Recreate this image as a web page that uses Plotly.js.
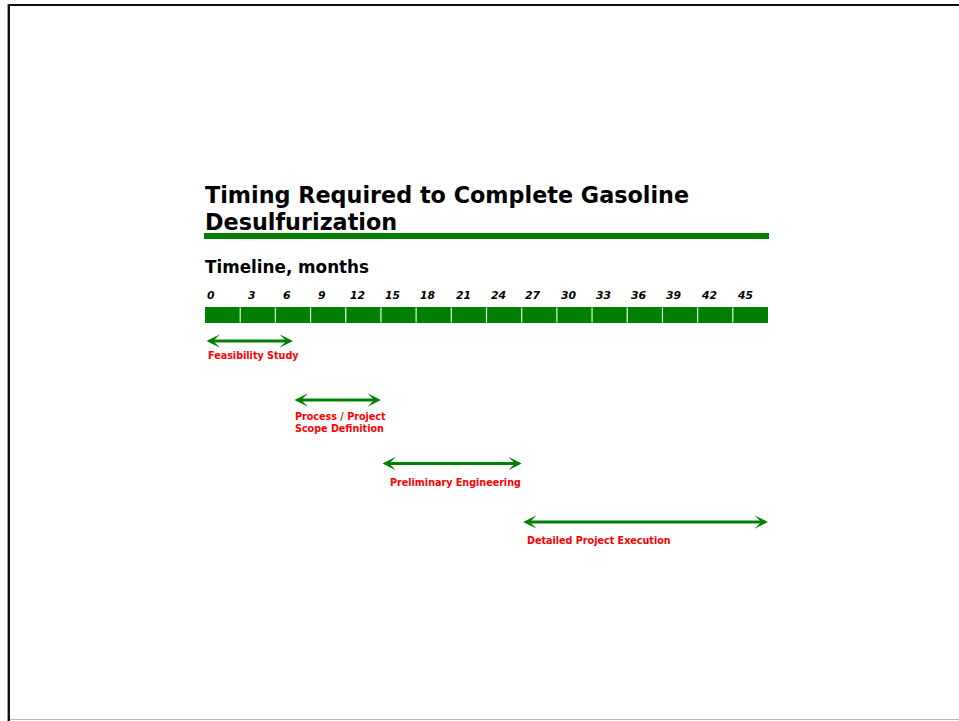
<!DOCTYPE html>
<html>
<head>
<meta charset="utf-8">
<script src="https://cdn.plot.ly/plotly-3.0.1.min.js"></script>
<style>
  html, body { margin: 0; padding: 0; background: #ffffff; }
  #chart { width: 959px; height: 721px; }
</style>
</head>
<body>
<div id="chart"></div>
<script>
// ---- data ----
var titleLines = ['Timing Required to Complete Gasoline', 'Desulfurization'];
var axisLabel = 'Timeline, months';
var totalMonths = 48;
var tickMonths = [0, 3, 6, 9, 12, 15, 18, 21, 24, 27, 30, 33, 36, 39, 42, 45];
var tickLabels = ['0', '3', '6', '9', '12', '15', '18', '21', '24', '27', '30', '33', '36', '39', '42', '45'];
var phaseNames = ['Feasibility Study', 'Process / Project<br>Scope Definition', 'Preliminary Engineering', 'Detailed Project Execution'];
var phaseStart = [0, 7.5, 15, 27];
var phaseEnd = [7.5, 15, 27, 48];

// ---- layout constants (pixels) ----
var W = 959, H = 721;
var barLeftPx = 205, barRightPx = 768;
var pxPerMonth = (barRightPx - barLeftPx) / totalMonths;
var xRange = [-barLeftPx / pxPerMonth, (W - barLeftPx) / pxPerMonth];
var arrowRowY = [341, 400, 463.5, 522];
var labelRowY = [355.5, 422.5, 482.5, 540.5];
var labelOffsetMonths = [0.2, 0.1, 0.65, 0.35];
var green = '#008000';
var red = '#ff0000';
var fam = '"DejaVu Sans", Verdana, sans-serif';

var traces = [{
  type: 'bar',
  orientation: 'h',
  y: [315],
  x: [totalMonths],
  base: [0],
  width: [16],
  marker: { color: green, line: { width: 0 } },
  hoverinfo: 'skip',
  showlegend: false
}];

var shapes = [];
// white dividers between segments
tickMonths.forEach(function (m) {
  if (m > 0) {
    shapes.push({ type: 'line', xref: 'x', yref: 'y', x0: m, x1: m, y0: 307.5, y1: 322.5,
      line: { color: (m % 12 === 0) ? '#ffffff' : '#e8f2e8', width: 1.2 }, layer: 'above' });
  }
});
// green rule under title
shapes.push({ type: 'rect', xref: 'paper', yref: 'y', x0: 204 / W, x1: 769 / W, y0: 233, y1: 239,
  fillcolor: green, line: { width: 0 } });
// frame
shapes.push({ type: 'line', xref: 'paper', yref: 'y', x0: 8.8 / W, x1: 8.8 / W, y0: 4, y1: 721,
  line: { color: '#111111', width: 2.4 } });
shapes.push({ type: 'line', xref: 'paper', yref: 'y', x0: 8 / W, x1: 1, y0: 5, y1: 5,
  line: { color: '#111111', width: 2 } });
shapes.push({ type: 'line', xref: 'paper', yref: 'y', x0: 10 / W, x1: 1, y0: 719.5, y1: 719.5,
  line: { color: '#b8b8b8', width: 1 } });

var ann = [];
// title
ann.push({ xref: 'x', yref: 'y', x: -0.05, y: 195, xanchor: 'left', yanchor: 'middle', showarrow: false,
  text: '<b>' + titleLines[0] + '</b>', borderpad: 0, font: { family: fam, size: 22.3, color: '#000000' } });
ann.push({ xref: 'x', yref: 'y', x: -0.05, y: 222, xanchor: 'left', yanchor: 'middle', showarrow: false,
  text: '<b>' + titleLines[1] + '</b>', borderpad: 0, font: { family: fam, size: 22.3, color: '#000000' } });
ann.push({ xref: 'x', yref: 'y', x: -0.05, y: 266.5, xanchor: 'left', yanchor: 'middle', showarrow: false,
  text: '<b>' + axisLabel + '</b>', borderpad: 0, font: { family: fam, size: 16.8, color: '#000000' } });
// tick labels
tickMonths.forEach(function (m, i) {
  ann.push({ xref: 'x', yref: 'y', x: m === 0 ? 0.05 : m + 1, y: 295.5,
    xanchor: m === 0 ? 'left' : 'center', yanchor: 'middle', showarrow: false, borderpad: 0,
    text: tickLabels[i],
    font: { family: fam, size: 10.8, color: '#000000', weight: 'bold', style: 'italic' } });
});
// phase arrows and labels
phaseNames.forEach(function (name, i) {
  ann.push({ xref: 'x', yref: 'y', axref: 'x', ayref: 'y',
    x: phaseEnd[i], y: arrowRowY[i], ax: phaseStart[i], ay: arrowRowY[i],
    text: '', showarrow: true, arrowside: 'end+start',
    arrowhead: 3, startarrowhead: 3, arrowsize: 0.75, startarrowsize: 0.75,
    arrowwidth: 3, arrowcolor: green, standoff: 0, startstandoff: 0 });
  ann.push({ xref: 'x', yref: 'y', x: phaseStart[i] + labelOffsetMonths[i], y: labelRowY[i],
    xanchor: 'left', yanchor: 'middle', align: 'left', showarrow: false, borderpad: 0,
    text: '<b>' + name + '</b>',
    font: { family: fam, size: 9.6, color: red } });
});

var layout = {
  width: W, height: H,
  margin: { l: 0, r: 0, t: 0, b: 0, pad: 0 },
  paper_bgcolor: '#ffffff', plot_bgcolor: '#ffffff',
  showlegend: false,
  xaxis: { range: xRange, visible: false, fixedrange: true },
  yaxis: { range: [H, 0], visible: false, fixedrange: true },
  shapes: shapes,
  annotations: ann
};

Plotly.newPlot('chart', traces, layout, { staticPlot: true, displayModeBar: false });
</script>
</body>
</html>
